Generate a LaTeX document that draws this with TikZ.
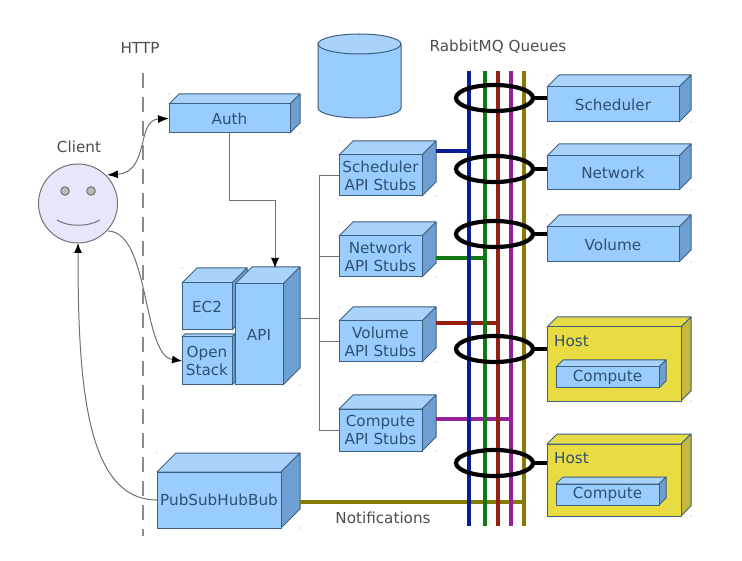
\documentclass[tikz,border=0pt]{standalone}
\usepackage{fontspec}
\setmainfont{DejaVu Sans}
\usetikzlibrary{arrows.meta,calc,shapes.geometric}
\definecolor{bfront}{HTML}{99CCFF}
\definecolor{btop}{HTML}{A9D3FB}
\definecolor{bside}{HTML}{6E9FD2}
\definecolor{yfront}{HTML}{E9DC42}
\definecolor{ytop}{HTML}{E6DA48}
\definecolor{yside}{HTML}{C6B83C}
\definecolor{edgec}{HTML}{3D5F80}
\definecolor{boxtext}{HTML}{2F5070}
\definecolor{outtext}{HTML}{4D4D4D}
\definecolor{wirec}{HTML}{707070}
\definecolor{qblue}{HTML}{0A1E96}
\definecolor{qgreen}{HTML}{0F7A14}
\definecolor{qred}{HTML}{96200F}
\definecolor{qpurple}{HTML}{96209A}
\definecolor{qolive}{HTML}{857A05}
\tikzset{
  x=1pt,y=-1pt,
  bluefront/.style={fill=bfront},bluetop/.style={fill=btop},blueside/.style={fill=bside},
  yellowfront/.style={fill=yfront},yellowtop/.style={fill=ytop},yellowside/.style={fill=yside},
  cubeline/.style={draw=edgec,line width=1pt,line join=round},
  boxlabel/.style={font=\fontsize{15.2}{18}\selectfont,text=boxtext,align=center},
  outlabel/.style={font=\fontsize{15.2}{18}\selectfont,text=outtext},
  wire/.style={draw=wirec,line width=1pt},
  curvewire/.style={draw=wirec,line width=1pt},
  tip/.style={-{Latex[length=10pt,width=8pt,black]}},
  queue/.style={line width=4.5pt},
  ring/.style={draw=black,line width=4.2pt,ellipse,minimum width=77pt,minimum height=26pt,inner sep=0pt,outer sep=0pt},
  speck/.style={fill=gray!70,draw=none},
}
% name, x, y, w, h, depth, palette, text
\newcommand{\cubebox}[8]{%
  \fill[speck] ({#2},{#3-#6}) circle (0.6);
  \fill[speck] ({#2+#4+#6},{#3+#5}) circle (0.6);
  \path[cubeline,#7top] ({#2},{#3}) -- ({#2+#6},{#3-#6}) -- ({#2+#4+#6},{#3-#6}) -- ({#2+#4},{#3}) -- cycle;
  \path[cubeline,#7side] ({#2+#4},{#3}) -- ({#2+#4+#6},{#3-#6}) -- ({#2+#4+#6},{#3+#5-#6}) -- ({#2+#4},{#3+#5}) -- cycle;
  \node[cubeline,#7front,boxlabel,anchor=north west,inner sep=0pt,outer sep=0pt,
        minimum width=#4pt,minimum height=#5pt,execute at begin node={\vspace*{2pt}}] (#1) at ({#2},{#3}) {#8};
}
\begin{document}
\begin{tikzpicture}
\useasboundingbox[fill=white] (0,0) rectangle (742,561);

% HTTP divider
\coordinate (httptop) at (143,73);
\coordinate (httpbot) at (143,536);
\draw[draw=gray!90,line width=1.3pt,dash pattern=on 15pt off 9pt] (httptop) -- (httpbot);

% labels
\node[outlabel] (http) at (140,48) {HTTP};
\node[outlabel] (clientlabel) at (79,147) {Client};
\node[outlabel] (rabbit) at (498,47) {RabbitMQ Queues};
\node[outlabel] (notif) at (383,518) {Notifications};

% database cylinder
\path[cubeline,fill=bfront] (318,44) -- (318,108) arc[start angle=180,end angle=360,x radius=41.5,y radius=-10] -- (401,44) -- cycle;
\path[cubeline,fill=btop] (359.5,44) ellipse[x radius=41.5,y radius=10];

% client
\node[circle,draw=gray!90!black,line width=1pt,fill=blue!8!white!97!gray,minimum size=79pt,inner sep=0pt,outer sep=0pt] (client) at (78,203.5) {};
\node[circle,draw=gray!90!black,line width=1pt,fill=gray!55,minimum size=8.5pt,inner sep=0pt] (eyel) at (65,191) {};
\node[circle,draw=gray!90!black,line width=1pt,fill=gray!55,minimum size=8.5pt,inner sep=0pt] (eyer) at (91,191) {};
\coordinate (smilel) at (57,220);
\coordinate (smiler) at (100,220);
\draw[draw=gray!90!black,line width=1pt] (smilel) .. controls (68,227) and (88,227) .. (smiler);

% boxes
\cubebox{auth}{169}{104}{121}{29}{10}{blue}{Auth}
\cubebox{ec2}{182}{283}{50}{47}{15}{blue}{EC2}
\cubebox{open}{182}{337}{50}{48}{3}{blue}{Open\\Stack}
\cubebox{api}{235}{284}{48}{101}{17}{blue}{API}
\cubebox{pubsub}{157}{472}{124}{56}{19}{blue}{PubSubHubBub}
\cubebox{sstub}{339}{155}{83}{41}{14}{blue}{Scheduler\\API Stubs}
\cubebox{nstub}{339}{236}{83}{41}{14}{blue}{Network\\API Stubs}
\cubebox{vstub}{339}{321}{83}{41}{14}{blue}{Volume\\API Stubs}
\cubebox{cstub}{339}{409}{83}{42}{14}{blue}{Compute\\API Stubs}
\cubebox{sched}{547}{87}{132}{35}{12}{blue}{Scheduler}
\cubebox{net}{547}{156}{132}{34}{12}{blue}{Network}
\cubebox{vol}{547}{227}{132}{35}{12}{blue}{Volume}
\cubebox{host1}{547}{327}{134}{74}{10}{yellow}{}
\cubebox{host2}{547}{444}{134}{72}{10}{yellow}{}
\cubebox{comp1}{556}{367}{103}{21}{7}{blue}{Compute}
\cubebox{comp2}{556}{484}{103}{21}{7}{blue}{Compute}
\node[boxlabel,anchor=west,inner sep=0pt] (hostl1) at (554,341) {Host};
\node[boxlabel,anchor=west,inner sep=0pt] (hostl2) at (554,458) {Host};

% grey wires
\coordinate (apiright) at (300,319);
\coordinate (treetop) at (319,175.5);
\coordinate (treebot) at (319,430);
\coordinate (apitop) at (275,268);
\draw[wire,tip] (auth.south) -- ++(0,68) -| (apitop);
\draw[wire] (apiright) -- (apiright -| treetop);
\draw[wire] (sstub.west) -- (treetop) -- (treebot) -- (cstub.west);
\draw[wire] (nstub.west) -- (nstub.west -| treetop);
\draw[wire] (vstub.west) -- (vstub.west -| treetop);

% client curves
\coordinate (clientne) at (107,175);
\coordinate (clientse) at (108,231);
\coordinate (clientbot) at (client.south);
\draw[curvewire,{Latex[length=11pt,width=8pt,black]}-{Latex[length=11pt,width=8pt,black]}]
  (clientne) .. controls (150,172) and (136,120) .. (auth.west);
\draw[curvewire,tip] (clientse) .. controls (150,232) and (142,355) .. (open.west);
\draw[curvewire,tip] (pubsub.west) .. controls (85,500) and (78,380) .. (clientbot);

% queue coordinates
\coordinate (q1t) at (469,71); \coordinate (q1b) at (469,526);
\coordinate (q2t) at (485,71); \coordinate (q2b) at (485,526);
\coordinate (q3t) at (498,71); \coordinate (q3b) at (498,526);
\coordinate (q4t) at (511,71); \coordinate (q4b) at (511,526);
\coordinate (q5t) at (524,71); \coordinate (q5b) at (524,526);

% stub to queue
\coordinate (sp) at (436,151); \coordinate (np) at (436,258);
\coordinate (vp) at (436,323); \coordinate (cp) at (436,419);
\coordinate (pp) at (300,502);
\draw[queue,qblue] (sp) -- (sp -| q1t);
\draw[queue,qgreen] (np) -- (np -| q2t);
\draw[queue,qred] (vp) -- (vp -| q3t);
\draw[queue,qpurple] (cp) -- (cp -| q4t);
\draw[queue,qolive] (pp) -- (pp -| q5t);

% queues
\draw[queue,qblue] (q1t) -- (q1b);
\draw[queue,qgreen] (q2t) -- (q2b);
\draw[queue,qred] (q3t) -- (q3b);
\draw[queue,qpurple] (q4t) -- (q4b);
\draw[queue,qolive] (q5t) -- (q5b);

% rings
\node[ring] (r1) at (494.5,98) {};
\node[ring] (r2) at (494.5,169) {};
\node[ring] (r3) at (494.5,234) {};
\node[ring] (r4) at (494.5,349) {};
\node[ring] (r5) at (494.5,463) {};
\draw[queue,black] (r1.east) -- (sched.west |- r1.east);
\draw[queue,black] (r2.east) -- (net.west |- r2.east);
\draw[queue,black] (r3.east) -- (vol.west |- r3.east);
\draw[queue,black] (r4.east) -- (host1.west |- r4.east);
\draw[queue,black] (r5.east) -- (host2.west |- r5.east);
\end{tikzpicture}
\end{document}
